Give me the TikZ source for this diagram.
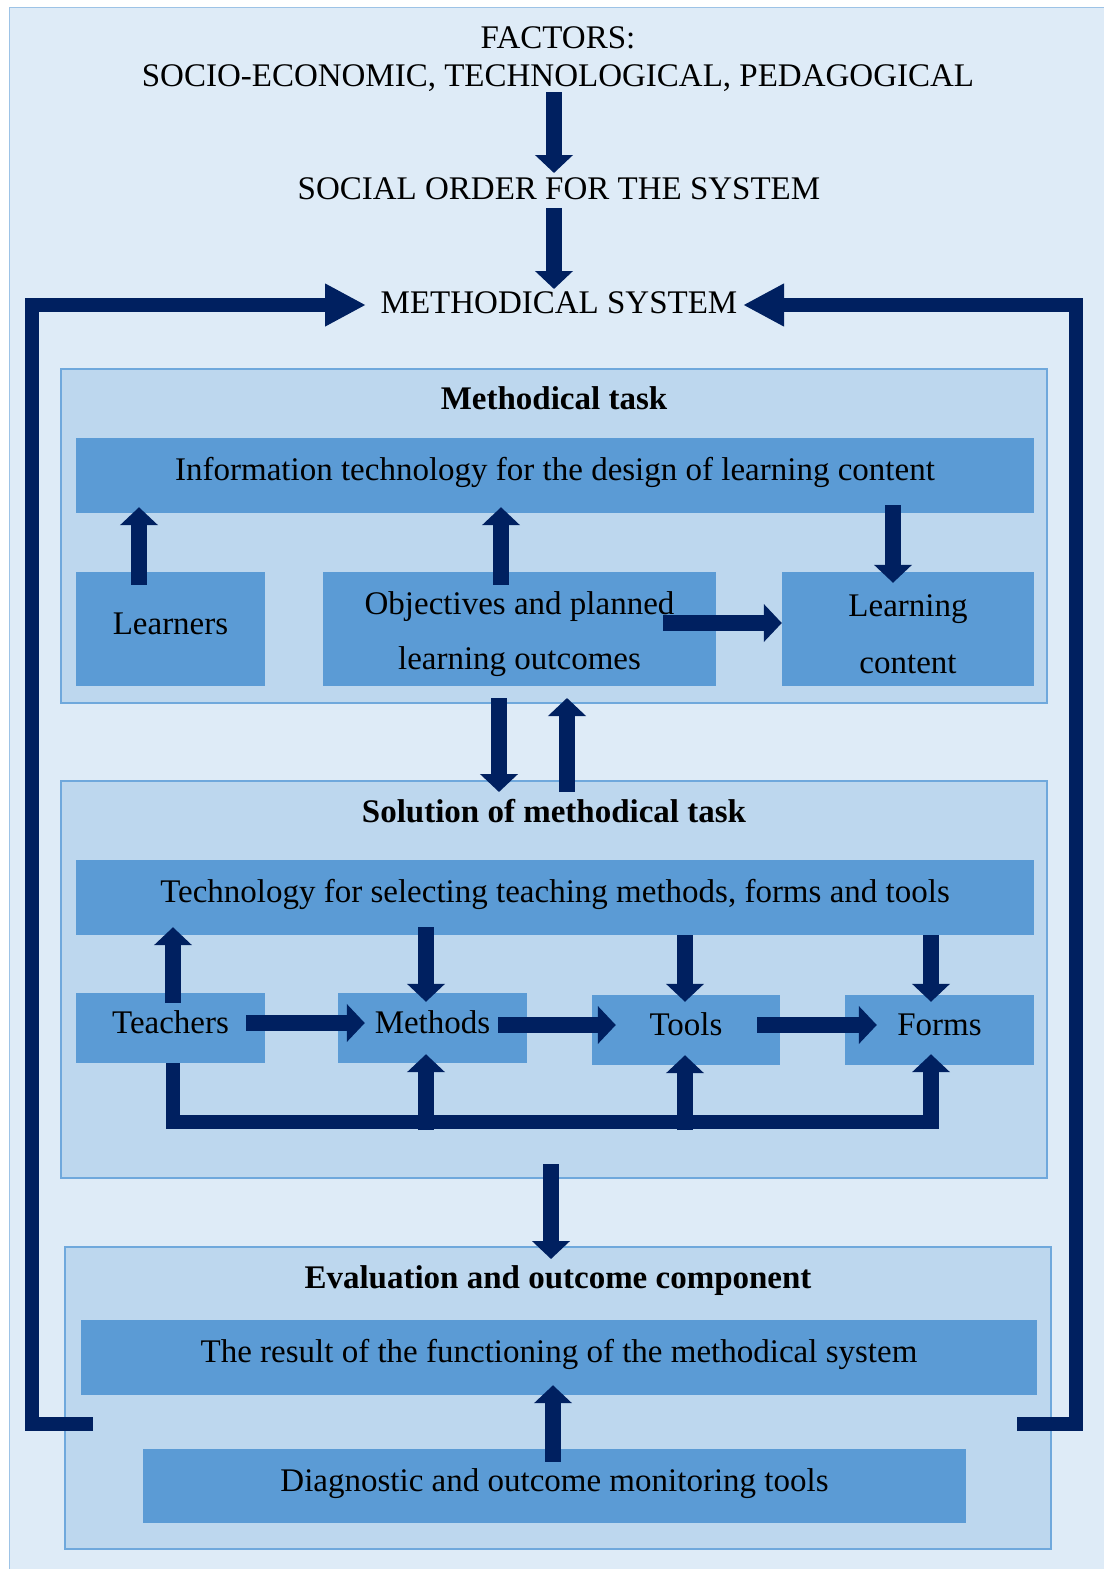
\documentclass[tikz,border=0pt]{standalone}
\usepackage{fontspec}
\setmainfont{Liberation Serif}
\usetikzlibrary{arrows.meta,calc}
\definecolor{bgc}{HTML}{DEEBF7}
\definecolor{bgline}{HTML}{9DC3E6}
\definecolor{grpc}{HTML}{BDD7EE}
\definecolor{boxc}{HTML}{5B9BD5}
\definecolor{navy}{HTML}{002060}
\definecolor{grpline}{HTML}{6FA8DC}
\begin{document}
\begin{tikzpicture}[x=1pt,y=-1pt,
 txt/.style={font=\fontsize{33}{40}\selectfont, inner sep=0pt, anchor=base},
 ttl/.style={font=\bfseries\fontsize{33}{40}\selectfont, inner sep=0pt, anchor=base},
 grp/.style={draw=grpline, line width=2pt, fill=grpc, inner sep=0pt},
 box/.style={fill=boxc, inner sep=0pt, font=\fontsize{33}{40}\selectfont, text height=20pt, text depth=10pt},
 boxtwo/.style={fill=boxc, inner sep=0pt, align=center},
 arr/.style={draw=navy, line width=16pt, -{Triangle[width=37pt,length=18pt]}},
 busbar/.style={draw=navy, line width=14pt, line join=miter},
 fb/.style={draw=navy, line width=14pt, line join=miter, -{Triangle[width=40pt,length=41pt]}}]
\useasboundingbox (0,0) rectangle (1104,1569);
\fill[bgc] (9,7) rectangle (1104,1569);
\draw[bgline, line width=1pt] (9,1569) -- (9,7) -- (1104,7);

% top texts
\node[txt] (factors) at (558,48) {FACTORS:};
\node[txt] (socio) at (558,86) {SOCIO-ECONOMIC, TECHNOLOGICAL, PEDAGOGICAL};
\node[txt] (social) at (559,199) {SOCIAL ORDER FOR THE SYSTEM};
\node[txt] (msys) at (559,313) {METHODICAL SYSTEM};

% groups
\node[grp, minimum width=986pt, minimum height=334pt] (g1) at (554,536) {};
\node[grp, minimum width=986pt, minimum height=397pt] (g2) at (554,979.5) {};
\node[grp, minimum width=986pt, minimum height=302pt] (g3) at (558,1398) {};

\node[ttl] (t1) at (554,409) {Methodical task};
\node[ttl] (t2) at (554,822) {Solution of methodical task};
\node[ttl] (t3) at (558,1288) {Evaluation and outcome component};

% boxes group 1
\node[box, minimum width=958pt, minimum height=75pt] (info) at (555,475.5) {Information technology for the design of learning content};
\node[box, minimum width=189pt, minimum height=114pt] (learners) at (170.5,629) {Learners};
\node[boxtwo, minimum width=393pt, minimum height=114pt, font=\fontsize{33}{55}\selectfont] (obj) at (519.5,629) {\rule{0pt}{32.5pt}Objectives and planned\\learning outcomes};
\node[boxtwo, minimum width=252pt, minimum height=114pt, font=\fontsize{33}{57}\selectfont] (lc) at (908,629) {\rule{0pt}{32pt}Learning\\content};

% boxes group 2
\node[box, minimum width=958pt, minimum height=75pt] (tech) at (555,897.5) {Technology for selecting teaching methods, forms and tools};
\node[box, minimum width=189pt, minimum height=70pt] (teachers) at (170.5,1028) {Teachers};
\node[box, minimum width=189pt, minimum height=70pt] (methods) at (432.5,1028) {Methods};
\node[box, minimum width=188pt, minimum height=70pt] (tools) at (686,1030) {Tools};
\node[box, minimum width=189pt, minimum height=70pt] (forms) at (939.5,1030) {Forms};

% boxes group 3
\node[box, minimum width=956pt, minimum height=75pt] (result) at (559,1357.5) {The result of the functioning of the methodical system};
\node[box, minimum width=823pt, minimum height=74pt] (diag) at (554.5,1486) {Diagnostic and outcome monitoring tools};

% top arrows
\draw[arr] ($(socio.base)+(-4,6)$) -- ($(social.base)+(-5,-26)$);
\draw[arr] ($(social.base)+(-5,9)$) -- ($(msys.base)+(-5,-24)$);

% group 1 arrows
\draw[arr] ($(learners.north)+(-31.5,13)$) -- ($(info.south)+(-416,-6)$);
\draw[arr] ($(obj.north)+(-18.5,13)$) -- ($(info.south)+(-54,-6)$);
\draw[arr] ($(info.south)+(338,-8)$) -- ($(lc.north)+(-15,11)$);
\draw[arr] ($(obj.east)+(-53,-6)$) -- ($(lc.west)+(0,-6)$);

% between groups 1 and 2
\draw[arr] ($(g1.south)+(-55,-6)$) -- ($(g2.north)+(-55,12)$);
\draw[arr] ($(g2.north)+(13,12)$) -- ($(g1.south)+(13,-6)$);

% group 2 arrows
\draw[arr] ($(teachers.north)+(2.5,10)$) -- ($(tech.south)+(-382,-8)$);
\draw[arr] ($(tech.south)+(-129,-8)$) -- ($(methods.north)+(-6.5,9)$);
\draw[arr] ($(tech.south)+(130,0)$) -- ($(tools.north)+(-1,7)$);
\draw[arr] ($(tech.south)+(376,0)$) -- ($(forms.north)+(-8.5,7)$);
\draw[arr] ($(teachers.east)+(-19,-5)$) -- ($(methods.west)+(27,-5)$);
\draw[arr] ($(methods.east)+(-29,-3)$) -- ($(tools.west)+(24,-5)$);
\draw[arr] ($(tools.east)+(-23,-5)$) -- ($(forms.west)+(32,-5)$);

\coordinate (busL) at ($(teachers.south)+(2.5,59)$);
\coordinate (busR) at ($(forms.south)+(-8.5,57)$);
\draw[busbar] ($(teachers.south)+(2.5,0)$) -- (busL) -- (busR);
\draw[arr] ($(busL)+(253,8)$) -- ($(methods.south)+(-6.5,-9)$);
\draw[arr] ($(busL)+(512,8)$) -- ($(tools.south)+(-1,-10)$);
\draw[arr] ($(busR)+(0,7)$) -- ($(forms.south)+(-8.5,-11)$);

% between groups 2 and 3
\draw[arr] ($(g2.south)+(-3,-15)$) -- ($(g3.north)+(-7,13)$);
\draw[arr] ($(diag.north)+(-1.5,13)$) -- ($(result.south)+(-6,-10)$);

% feedback loop
\coordinate (lb) at ($(g3.west)+(29,26)$);
\coordinate (rb) at ($(g3.east)+(-35,26)$);
\coordinate (ltip) at ($(msys.base)+(-193,-8)$);
\coordinate (rtip) at ($(msys.base)+(184,-8)$);
\draw[fb] (lb) -- (32,1424) -- (32,305) -- (ltip);
\draw[fb] (rb) -- (1076,1424) -- (1076,305) -- (rtip);
\end{tikzpicture}
\end{document}
